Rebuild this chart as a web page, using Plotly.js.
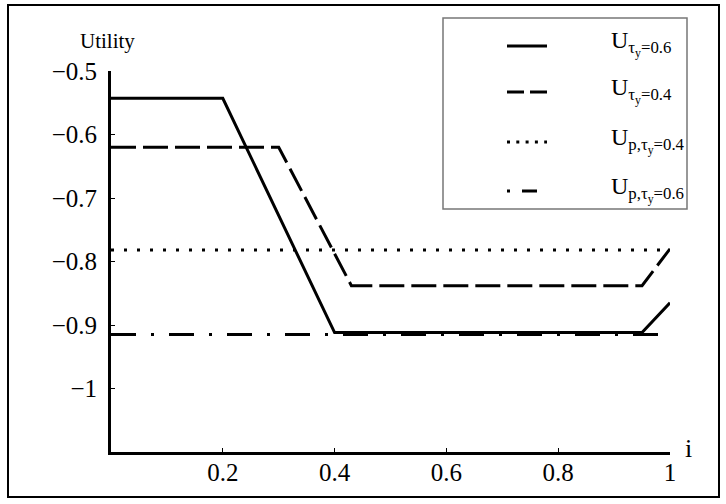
<!DOCTYPE html>
<html>
<head>
<meta charset="utf-8">
<script src="https://cdn.plot.ly/plotly-3.0.1.min.js"></script>
<style>
  html, body { margin: 0; padding: 0; background: #ffffff; }
  #chart { width: 726px; height: 504px; }
</style>
</head>
<body>
<div id="chart"></div>
<script>
// ---- data ----
const iSolid   = [0, 0.2, 0.4, 0.95, 1];
const uSolid   = [-0.543, -0.543, -0.912, -0.912, -0.865];
const iDashed  = [0, 0.3, 0.43, 0.95, 1];
const uDashed  = [-0.62, -0.62, -0.838, -0.838, -0.78];
const iDotted  = [0, 1];
const uDotted  = [-0.782, -0.782];
const iDashDot = [0, 1];
const uDashDot = [-0.915, -0.915];

const xTickVals = [0.2, 0.4, 0.6, 0.8, 1];
const yTickVals = [-0.5, -0.6, -0.7, -0.8, -0.9, -1];

const seriesNames = [
  "U<sub>τ<sub>y</sub>=0.6</sub>",
  "U<sub>τ<sub>y</sub>=0.4</sub>",
  "U<sub>p,τ<sub>y</sub>=0.4</sub>",
  "U<sub>p,τ<sub>y</sub>=0.6</sub>"
];
const seriesDash = ["solid", "25px,7px", "3px,10px", "25px,15px,3px,15px"];
const legendDash = ["solid", "17px,6px", "3px,6.3px", "3px,12px,15px,100px"];

// ---- layout geometry ----
const W = 726, H = 504;
const M = { l: 111, r: 56, t: 71, b: 52 };
const pw = W - M.l - M.r, ph = H - M.t - M.b;
const px = x => (x - M.l) / pw;          // pixel -> paper x
const py = y => (H - M.b - y) / ph;      // pixel -> paper y

const FONT = "Liberation Serif";

const xs = [iSolid, iDashed, iDotted, iDashDot];
const ys = [uSolid, uDashed, uDotted, uDashDot];
const data = xs.map((x, k) => ({
  x: x, y: ys[k], name: seriesNames[k], type: "scatter", mode: "lines",
  line: { color: "#000", width: 3, dash: seriesDash[k] },
  hoverinfo: "skip", showlegend: false
}));

// legend drawn as shapes + annotations inside a framed box
const rowY = [46, 92, 142, 191];
const legendShapes = rowY.map((r, k) => ({
  type: "line", xref: "paper", yref: "paper",
  x0: px(507), x1: px(547), y0: py(r), y1: py(r),
  line: { color: "#000", width: 3, dash: legendDash[k] }, layer: "above"
}));
const legendText = rowY.map((r, k) => ({
  text: seriesNames[k], xref: "paper", yref: "paper",
  x: px(609), y: py(r - 2), xanchor: "left", yanchor: "middle",
  showarrow: false, font: { family: FONT, size: 24, color: "#000" }
}));

const layout = {
  width: W, height: H,
  margin: M,
  paper_bgcolor: "#fff", plot_bgcolor: "#fff",
  font: { family: FONT, color: "#000", size: 24 },
  showlegend: false,
  xaxis: {
    range: [0, 1], showgrid: false, zeroline: false,
    showline: true, linecolor: "#000", linewidth: 3,
    ticks: "inside", ticklen: 4, tickwidth: 1, tickcolor: "#000",
    tickvals: xTickVals, ticklabelstandoff: -4,
    tickfont: { family: FONT, size: 25 }, fixedrange: true
  },
  yaxis: {
    range: [-1.1, -0.5], showgrid: false, zeroline: false,
    showline: true, linecolor: "#000", linewidth: 3,
    ticks: "inside", ticklen: 4, tickwidth: 1, tickcolor: "#000",
    tickvals: yTickVals, ticklabelstandoff: 6,
    tickfont: { family: FONT, size: 25 }, fixedrange: true
  },
  annotations: [
    { text: "Utility", xref: "paper", yref: "paper", x: px(107), y: py(41),
      xanchor: "center", yanchor: "middle", showarrow: false,
      font: { family: FONT, size: 21, color: "#000" } },
    { text: "i", xref: "paper", yref: "paper", x: px(689), y: py(448),
      xanchor: "center", yanchor: "middle", showarrow: false,
      font: { family: FONT, size: 26, color: "#000" } }
  ].concat(legendText),
  shapes: [
    { type: "rect", xref: "paper", yref: "paper",
      x0: px(8), x1: px(719), y0: py(497), y1: py(5),
      line: { color: "#000", width: 2 }, layer: "below" },
    { type: "rect", xref: "paper", yref: "paper",
      x0: px(443), x1: px(687), y0: py(209), y1: py(18),
      line: { color: "#777", width: 1.5 }, fillcolor: "#fff", layer: "above" }
  ].concat(legendShapes)
};

Plotly.newPlot("chart", data, layout, { displayModeBar: false, staticPlot: true });
</script>
</body>
</html>
